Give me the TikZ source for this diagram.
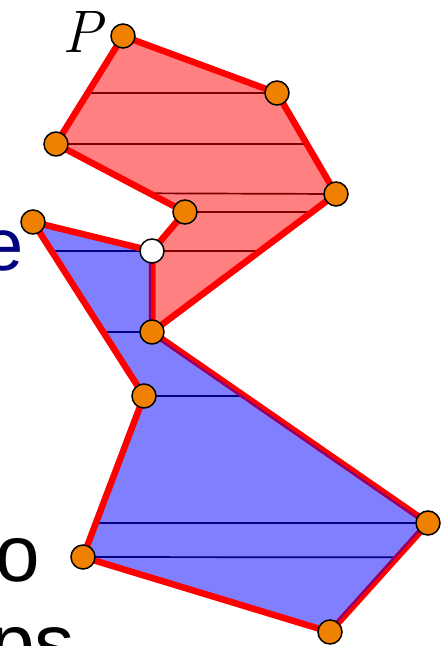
\documentclass[tikz,border=0pt]{standalone}
\usepackage{fontspec}
\newfontfamily\arialfont{Liberation Sans}
\usetikzlibrary{calc}
\definecolor{pinkfill}{RGB}{255,128,128}
\definecolor{bluefill}{RGB}{128,128,255}
\definecolor{darkredline}{RGB}{128,0,0}
\definecolor{navyline}{RGB}{0,0,128}
\definecolor{dotorange}{RGB}{240,128,0}
\definecolor{edgepurple}{RGB}{128,0,128}
\tikzset{
  edgeline/.style={draw=red, line width=6.5pt, line join=miter},
  redsplit/.style={draw=darkredline, line width=1.7pt},
  bluesplit/.style={draw=navyline, line width=1.7pt},
  purplestrip/.style={draw=edgepurple, line width=2pt},
  vdot/.style={circle, draw=black, line width=1.5pt, fill=dotorange, minimum size=24pt, inner sep=0pt},
  wdot/.style={circle, draw=black, line width=1.5pt, fill=white, minimum size=24pt, inner sep=0pt}
}
\begin{document}
\begin{tikzpicture}[x=1pt, y=-1pt]
\useasboundingbox (0,0) rectangle (441,646);
\clip (0,0) rectangle (441,646);
% vertices
\coordinate (P1) at (123,36);
\coordinate (P2) at (277,93);
\coordinate (P3) at (336,194);
\coordinate (V) at (152,332);
\coordinate (W) at (152,251);
\coordinate (P6) at (185,212);
\coordinate (P7) at (56,144);
\coordinate (B1) at (33,222);
\coordinate (B4) at (428,523);
\coordinate (B5) at (330,632);
\coordinate (B6) at (83,557);
\coordinate (B7) at (144,396);
% texts
\node[anchor=base west, inner sep=0pt, text=navyline, font=\arialfont\fontsize{74}{80}\selectfont] (te) at (-18,270) {e};
\node[anchor=base west, inner sep=0pt, text=black, font=\arialfont\fontsize{80}{86}\selectfont] (to) at (-5,581) {o};
\node[anchor=base west, inner sep=0pt, text=black, font=\arialfont\fontsize{80}{86}\selectfont] (tps) at (-10,670) {ps};
\node[anchor=base, inner sep=0pt, font=\fontsize{60}{66}\selectfont\itshape] (tP) at (82,52) {P};
% fills
\fill[pinkfill] (P1) -- (P2) -- (P3) -- (V) -- (W) -- (P6) -- (P7) -- cycle;
\fill[bluefill] (B1) -- (W) -- (V) -- (B4) -- (B5) -- (B6) -- (B7) -- cycle;
% trapezoid splits, red polygon
\draw[redsplit] ($(P1)!0.528!(P7)$) -- (P2);
\draw[redsplit] (P7) -- ($(P2)!0.505!(P3)$);
\draw[redsplit] ($(P7)!0.725!(P6)$) -- (P3);
\draw[redsplit] (P6) -- ($(P3)!0.130!(V)$);
\draw[redsplit] (W) -- ($(P3)!0.413!(V)$);
% trapezoid splits, blue polygon
\draw[bluesplit] ($(B1)!0.167!(B7)$) -- (W);
\draw[bluesplit] ($(B1)!0.632!(B7)$) -- (V);
\draw[bluesplit] (B7) -- ($(V)!0.335!(B4)$);
\draw[bluesplit] ($(B7)!0.789!(B6)$) -- (B4);
\draw[bluesplit] (B6) -- ($(B4)!0.315!(B5)$);
% outlines
\draw[edgeline] (P1) -- (P2) -- (P3) -- (V) -- (W) -- (P6) -- (P7) -- cycle;
\draw[edgeline] (B1) -- (W) -- (V) -- (B4) -- (B5) -- (B6) -- (B7) -- cycle;
% purple strips along inner side
\draw[purplestrip] ([xshift=-2pt]W) -- ([xshift=-2pt]V);
\draw[purplestrip] ($(V)+(-1.1,1.6)$) -- ($(B4)+(-1.1,1.6)$);
\draw[purplestrip] ($(B4)+(-1.5,-1.3)$) -- ($(B5)+(-1.5,-1.3)$);
% vertex dots
\node[vdot] (d1) at (P1) {};
\node[vdot] (d2) at (P2) {};
\node[vdot] (d3) at (P3) {};
\node[vdot] (d4) at (V) {};
\node[wdot] (d5) at (W) {};
\node[vdot] (d6) at (P6) {};
\node[vdot] (d7) at (P7) {};
\node[vdot] (d8) at (B1) {};
\node[vdot] (d9) at (B4) {};
\node[vdot] (d10) at (B5) {};
\node[vdot] (d11) at (B6) {};
\node[vdot] (d12) at (B7) {};
\end{tikzpicture}
\end{document}
